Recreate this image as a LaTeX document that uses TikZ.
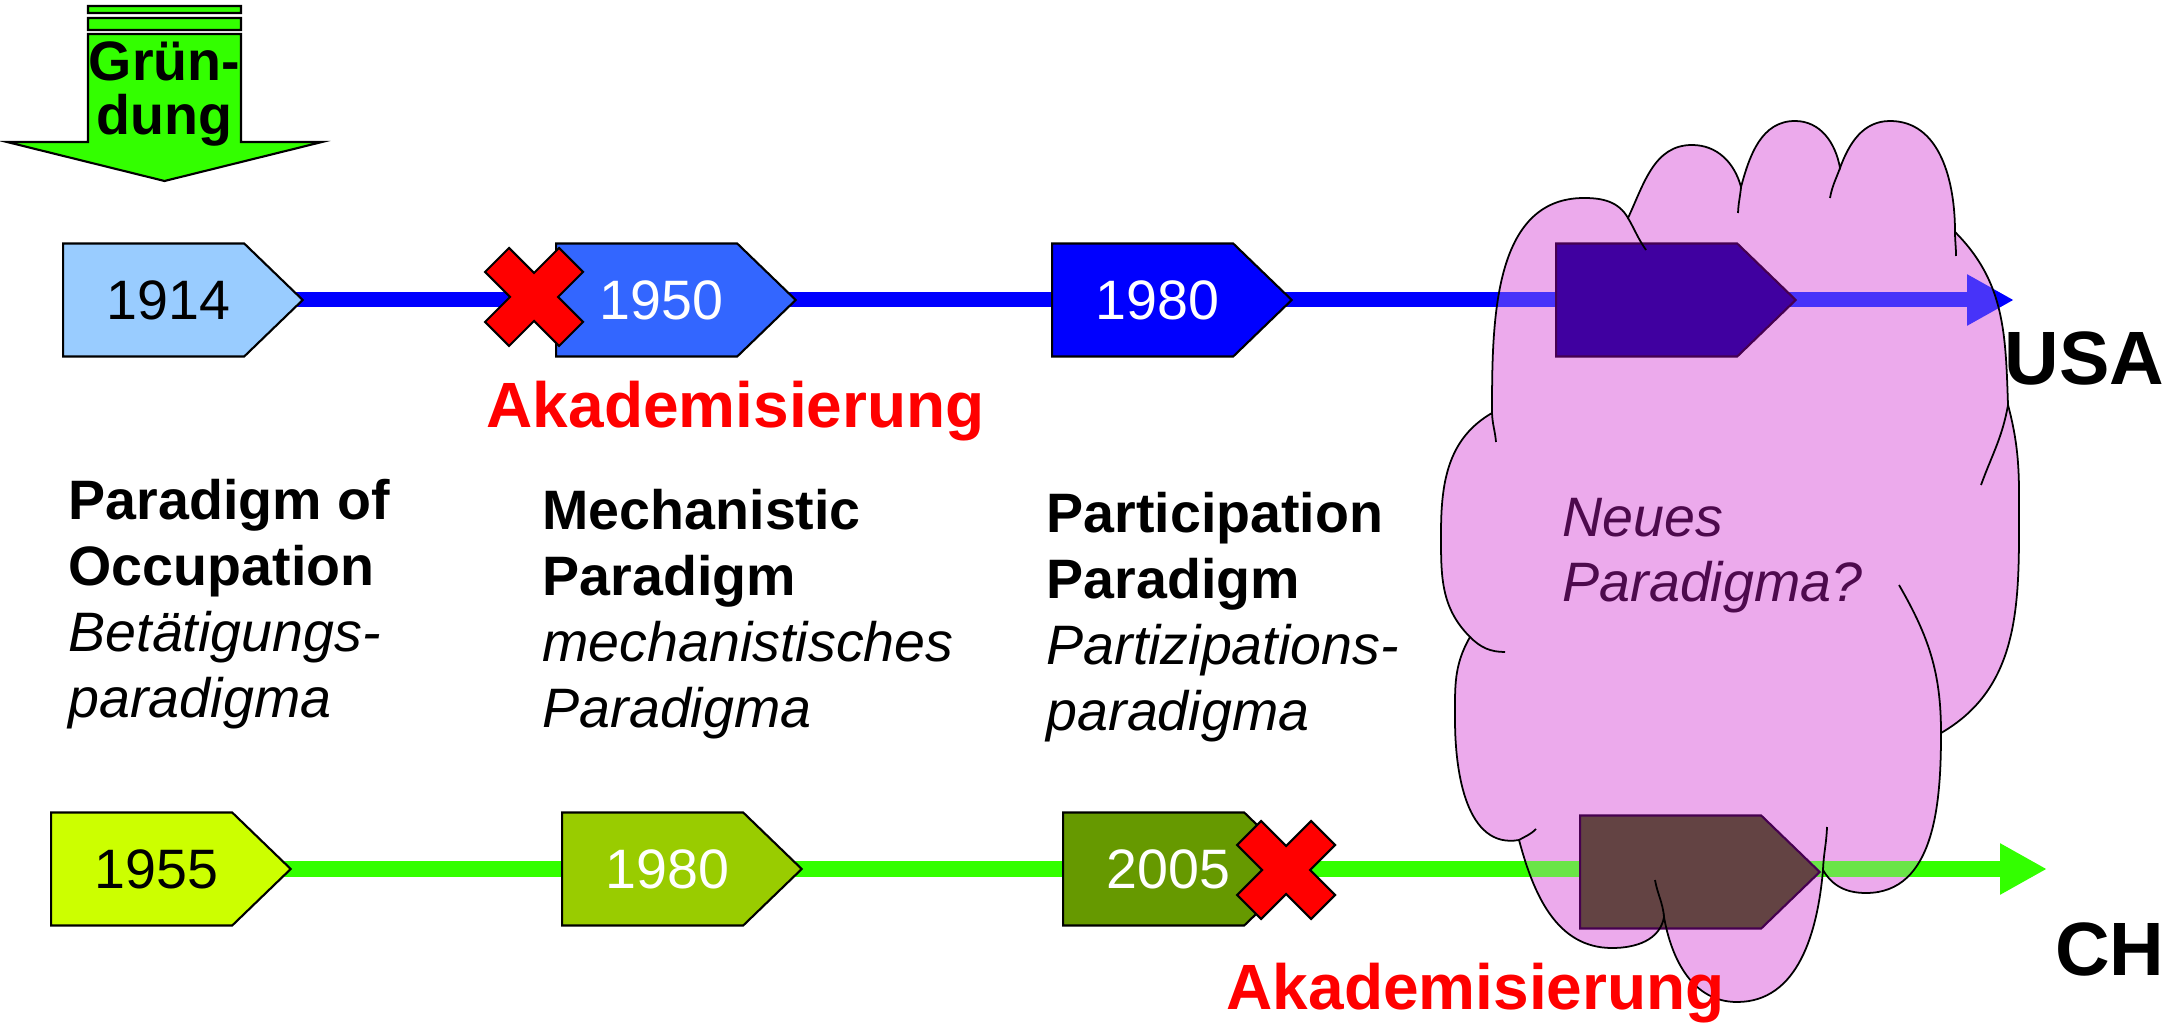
\documentclass[tikz,border=0pt]{standalone}
\usepackage{fontspec}
\setmainfont{Liberation Sans}
\usetikzlibrary{arrows.meta,shapes.symbols}

\definecolor{usablau}{RGB}{0,0,255}
\definecolor{chgruen}{RGB}{51,255,0}
\definecolor{farbeA}{RGB}{153,204,255}
\definecolor{farbeB}{RGB}{51,102,255}
\definecolor{farbeC}{RGB}{0,0,255}
\definecolor{neublau}{RGB}{64,0,160}
\definecolor{farbeD}{RGB}{204,255,0}
\definecolor{farbeE}{RGB}{153,204,0}
\definecolor{farbeF}{RGB}{102,153,0}
\definecolor{neubraun}{RGB}{99,67,67}
\definecolor{neurand}{RGB}{70,0,80}
\definecolor{wolkenrosa}{RGB}{236,170,236}
\definecolor{wolkentext}{RGB}{77,10,77}

\pgfdeclarelayer{unten}
\pgfdeclarelayer{mitte}
\pgfsetlayers{unten,mitte,main}

% Umriss der Wolke (Pixelkoordinaten, y nach unten)
\newcommand{\wolkenrand}{(1492,413) to[out=210,in=90] (1441,533) to[out=270,in=135] (1470,637)
  to[out=240,in=90] (1455,720) to[out=270,in=190] (1519,840)
  to[out=285,in=180] (1612,948) to[out=0,in=260] (1664,917)
  to[out=280,in=180] (1737,1002) to[out=0,in=265] (1823,870)
  to[out=300,in=180] (1866,893) to[out=0,in=270] (1941,733)
  to[out=30,in=270] (2019,530) to[out=90,in=285] (2008,405)
  to[out=92,in=315] (1955,232)
  to[out=90,in=0] (1890,121) to[out=180,in=70] (1840,168)
  to[out=100,in=0] (1795,121) to[out=180,in=75] (1741,187)
  to[out=105,in=0] (1692,145) to[out=180,in=65] (1628,218)
  to[out=120,in=0] (1584,198) to[out=180,in=90] (1492,413) -- cycle}

\newcommand{\kreuz}[1]{\filldraw[kreuz,shift={(#1)}] (0,24) -- (25,49) -- (49,25) -- (24,0)
  -- (49,-25) -- (25,-49) -- (0,-24) -- (-25,-49) -- (-49,-25) -- (-24,0) -- (-49,25) -- (-25,49) -- cycle;}

\begin{document}
\begin{tikzpicture}[x=0.01cm,y=-0.01cm,
  jahr/.style={shape=signal,signal to=east,signal pointer angle=88,draw=black,line width=0.6pt,
    minimum height=1.13cm,inner xsep=0.14cm,inner ysep=0pt,text width=1.53cm,align=right,anchor=west,
    font=\fontsize{15.8}{18.7}\selectfont},
  usalinie/.style={draw=usablau,line width=0.15cm,-{Triangle[length=0.47cm,width=0.48cm]}},
  chlinie/.style={draw=chgruen,line width=0.15cm,-{Triangle[length=0.47cm,width=0.48cm]}},
  wolkenlinie/.style={draw=black,line width=0.5pt},
  kreuz/.style={fill=red,draw=black,line width=0.6pt,line join=miter},
  gruenpfeil/.style={fill=chgruen,draw=black,line width=0.6pt},
  spalte/.style={anchor=base west,align=left,inner sep=0pt,font=\fontsize{15.8}{18.7}\selectfont},
  akad/.style={anchor=base west,inner sep=0pt,text=red,font=\fontsize{18.2}{20}\selectfont\bfseries},
  land/.style={anchor=base east,inner sep=0pt,font=\fontsize{21.5}{24}\selectfont\bfseries}]
\useasboundingbox (0,0) rectangle (2179,1025);

% Jahreszahlen
\node[jahr,fill=farbeA] (b1914) at (62,300) {1914};
\node[jahr,fill=farbeB,text=white] (b1950) at (555,300) {1950};
\node[jahr,fill=farbeC,text=white] (b1980) at (1051,300) {1980};
\node[jahr,fill=neublau,draw=neurand] (bneu) at (1555,300) {};
\node[jahr,fill=farbeD] (c1955) at (50,869) {1955};
\node[jahr,fill=farbeE,text=white] (c1980) at (561,869) {1980};
\node[jahr,fill=farbeF,text=white] (c2005) at (1062,869) {2005};
\node[jahr,fill=neubraun,draw=neurand] (cneu) at (1579,872) {};
\coordinate (usaende) at (2014,300);
\coordinate (chende) at (2047,869);

\begin{pgfonlayer}{unten}
\fill[wolkenrosa] \wolkenrand;
\draw[usalinie] (b1914.center) -- (b1950.center) -- (b1980.center) -- (bneu.center) -- (usaende);
\draw[chlinie] (c1955.center) -- (c1980.center) -- (c2005.center) -- (cneu.center |- chende) -- (chende);
\end{pgfonlayer}
\begin{pgfonlayer}{mitte}
\fill[wolkenrosa,fill opacity=0.3] \wolkenrand;
\end{pgfonlayer}

% Wolke
\draw[wolkenlinie] \wolkenrand;
\draw[wolkenlinie] (1492,413) to[out=272,in=95] (1496,442)
  (1470,637) to[out=315,in=180] (1505,652)
  (1519,840) to[out=30,in=225] (1536,829)
  (1664,917) to[out=95,in=280] (1655,880)
  (1823,870) to[out=88,in=268] (1827,827)
  (1941,733) to[out=90,in=300] (1899,585)
  (2008,405) to[out=260,in=70] (1981,485)
  (1955,232) to[out=270,in=90] (1956,256)
  (1840,168) to[out=250,in=80] (1830,198)
  (1741,187) to[out=265,in=88] (1738,213)
  (1628,218) to[out=300,in=125] (1646,250);

% Gruendung
\filldraw[gruenpfeil] (88,6) rectangle (241,13) (88,18) rectangle (241,30)
  (88,34) -- (241,34) -- (241,142) -- (322,142) -- (164.5,181) -- (7,142) -- (88,142) -- cycle;
\node[align=center,anchor=base,inner sep=0pt,font=\fontsize{15.8}{15.6}\selectfont\bfseries] (gruendung) at (164.5,135) {Grün-\\dung};

\kreuz{534,297}
\kreuz{1286,870}

\node[akad] (akadusa) at (486,428) {Akademisierung};
\node[akad] (akadch) at (1226,1009) {Akademisierung};
\node[land] (usa) at (2165,385) {USA};
\node[land] (ch) at (2165,975) {CH};

\node[spalte] (occupation) at (68,717) {\textbf{Paradigm of}\\\textbf{Occupation}\\\textit{Betätigungs-}\\\textit{paradigma}};
\node[spalte] (mechanistic) at (542,727) {\textbf{Mechanistic}\\\textbf{Paradigm}\\\textit{mechanistisches}\\\textit{Paradigma}};
\node[spalte] (participation) at (1046,730) {\textbf{Participation}\\\textbf{Paradigm}\\\textit{Partizipations-}\\\textit{paradigma}};
\node[spalte,text=wolkentext] (neues) at (1562,602) {\textit{Neues}\\\textit{Paradigma?}};
\end{tikzpicture}
\end{document}
